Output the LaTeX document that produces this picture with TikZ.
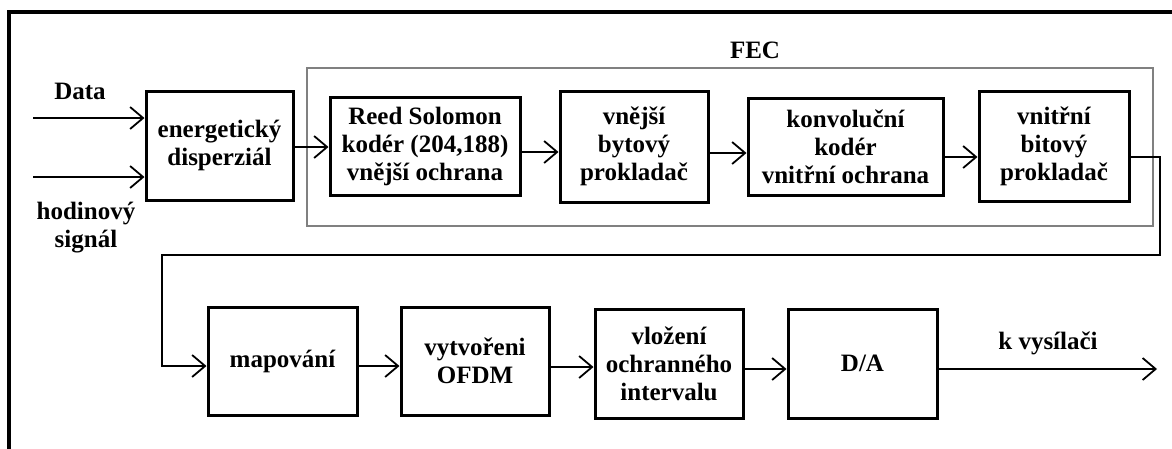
\documentclass[tikz,border=0pt]{standalone}
\usepackage{fontspec}
\setmainfont{Liberation Serif}
\usetikzlibrary{arrows.meta}
\definecolor{fecgray}{gray}{0.5}
\begin{document}
\begin{tikzpicture}[x=1pt,y=-1pt,
  txt/.style={font=\bfseries\fontsize{25}{28}\selectfont},
  blk/.style={txt, draw, line width=3pt, inner sep=0pt, align=center},
  lbl/.style={txt, align=center, inner sep=0pt},
  wire/.style={line width=2.5pt},
  arr/.style={wire, -{Straight Barb[length=13pt,width=22pt,line width=1.8pt]}}]
\useasboundingbox (0,0) rectangle (1172,448);
\fill[white] (0,0) rectangle (1172,448);

% open outer frame (top and left edges only)
\draw[line width=3.2pt] (1176,12) -- (9,12) -- (9,452);

% FEC group frame
\node[draw=fecgray, line width=1.8pt, minimum width=846pt, minimum height=158pt, inner sep=0pt] (fec) at (730,147) {};
\node[lbl] (feclbl) at (755,50) {FEC};

% upper chain
\node[blk, minimum width=147pt, minimum height=109pt] (ed) at (219.5,145.5) {energetický\\disperziál};
\node[blk, minimum width=190pt, minimum height=98pt] (rs) at (425,146) {Reed Solomon\\kodér (204,188)\\vnější ochrana};
\node[blk, minimum width=148pt, minimum height=111pt] (vb) at (634,146.5) {vnější\\bytový\\prokladač};
\node[blk, minimum width=195pt, minimum height=97pt] (kk) at (845.5,146.5) {konvoluční\\kodér\\vnitřní ochrana};
\node[blk, minimum width=150pt, minimum height=110pt] (vi) at (1054,146) {vnitřní\\bitový\\prokladač};

% lower chain
\node[blk, minimum width=149pt, minimum height=108pt] (map) at (282.5,361) {mapování};
\node[blk, minimum width=148pt, minimum height=108pt] (ofdm) at (475,361) {vytvořeni\\OFDM};
\node[blk, minimum width=148pt, minimum height=109pt] (vlo) at (669,363.5) {vložení\\ochranného\\intervalu};
\node[blk, minimum width=149pt, minimum height=109pt] (da) at (862.5,363.5) {D/A};

% inputs and output labels
\node[lbl] (data) at (80,91) {Data};
\node[lbl] (clk) at (86,228) {hodinový\\signál};
\node[lbl] (kvys) at (1048,343) {k vysílači};

% connector end points
\coordinate (din) at (33,118);
\coordinate (cin) at (33,177);
\coordinate (t1) at (1160,157);
\coordinate (t2) at (1160,255);
\coordinate (t3) at (162,255);
\coordinate (t4) at (162,366);
\coordinate (out) at (1157,369);

% connectors
\draw[arr] (din) -- (din -| ed.west);
\draw[arr] (cin) -- (cin -| ed.west);
\draw[arr] (ed.east |- 0,147) -- (rs.west |- 0,147);
\draw[arr] (rs.east |- 0,152) -- (vb.west |- 0,152);
\draw[arr] (vb.east |- 0,153) -- (kk.west |- 0,153);
\draw[arr] (kk.east |- 0,157) -- (vi.west |- 0,157);
\draw[arr] (vi.east |- t1) -- (t1) -- (t2) -- (t3) -- (t4) -- (map.west |- t4);
\draw[arr] (map.east |- 0,366) -- (ofdm.west |- 0,366);
\draw[arr] (ofdm.east |- 0,367) -- (vlo.west |- 0,367);
\draw[arr] (vlo.east |- 0,369) -- (da.west |- 0,369);
\draw[arr] (da.east |- out) -- (out);
\end{tikzpicture}
\end{document}
